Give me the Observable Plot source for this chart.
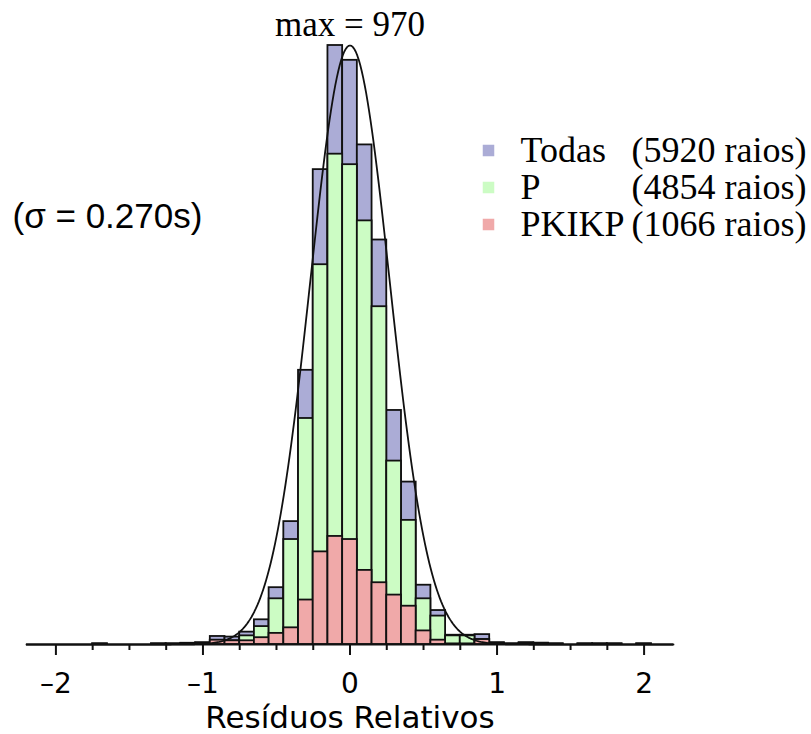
<!DOCTYPE html>
<html><head><meta charset="utf-8">
<script src="https://cdn.jsdelivr.net/npm/d3@7"></script>
<script src="https://cdn.jsdelivr.net/npm/@observablehq/plot@0.6"></script>
<style>body{margin:0;background:#fff}</style>
</head><body><div id="chart"></div>
<script>
// Bin centres (bin width 0.1)
const binCenters = [-2.0,-1.9,-1.8,-1.7,-1.6,-1.5,-1.4,-1.3,-1.2,-1.1,-1.0,-0.9,-0.8,-0.7,-0.6,-0.5,-0.4,-0.3,-0.2,-0.1,0.0,0.1,0.2,0.3,0.4,0.5,0.6,0.7,0.8,0.9,1.0,1.1,1.2,1.3,1.4,1.5,1.6,1.7,1.8,1.9,2.0];
const todas  = [0,0,0,1,0,0,0,1,1,2,3,13,12,20,40,92,199,444,769,970,946,809,655,379,263,96,55,15,15,16,3,1,3,2,1,0,1,1,1,0,1];
const pRays  = [0,0,0,1,0,0,0,1,1,1,2,6,6,14,29,74,170,366,615,794,777,686,547,297,201,74,46,14,14,8,2,1,2,2,1,0,1,1,1,0,1];
const pkikp  = [0,0,0,0,0,0,0,0,0,1,1,7,6,6,11,18,27,72,150,175,170,120,100,80,62,22,7,1,1,8,1,0,1,0,0,0,0,0,0,0,0];
const binWidth = 0.1;

const legendNames  = ["Todas", "P", "PKIKP"];
const legendCounts = ["(5920 raios)", "(4854 raios)", "(1066 raios)"];
const sigma = 0.270;   // from the annotation
const peakCount = 970; // "max = 970"
const majorTicks = [-2, -1, 0, 1, 2];
const minorTicks = [-1.75, -1.5, -1.25, -0.75, -0.5, -0.25, 0.25, 0.5, 0.75, 1.25, 1.5, 1.75];

const fills = ["#abacd6", "#ccfcc4", "#f0a9a9"];
const ink = "#111";

function rows(vals) {
  return binCenters
    .map((c, i) => ({x1: c - binWidth / 2, x2: c + binWidth / 2, y: vals[i]}))
    .filter(d => d.y > 0);
}
const curve = d3.range(-2.2, 2.2001, 0.01).map(x => ({x, y: peakCount * Math.exp(-x * x / (2 * sigma * sigma))}));

const fmt = d => d < 0 ? "\u2013" + Math.abs(d) : String(d);

const legendMarks = legendNames.flatMap((name, i) => [
  Plot.dot([name], {frameAnchor: "top-left", dx: 462, dy: 105 + 37 * i, symbol: "square", r: 6.5, fill: fills[i], stroke: null}),
  Plot.text([name], {frameAnchor: "top-left", dx: 494, dy: 105 + 37 * i, textAnchor: "start", lineAnchor: "middle", fontSize: 36, fontFamily: "Liberation Serif", fill: "#000"}),
  Plot.text([legendCounts[i]], {frameAnchor: "top-right", dx: 133, dy: 105 + 37 * i, textAnchor: "end", lineAnchor: "middle", fontSize: 36, fontFamily: "Liberation Serif", fill: "#000"})
]);

const chart = Plot.plot({
  width: 811,
  height: 734,
  marginLeft: 26,
  marginRight: 138,
  marginTop: 45,
  marginBottom: 90,
  x: {domain: [-2.2, 2.2]},
  y: {domain: [0, 970], axis: null},
  style: {fontFamily: "DejaVu Sans", background: "white", color: "#000"},
  marks: [
    Plot.rectY(rows(todas), {x1: "x1", x2: "x2", y: "y", fill: fills[0], stroke: ink, strokeWidth: 1.8}),
    Plot.rectY(rows(pRays), {x1: "x1", x2: "x2", y: "y", fill: fills[1], stroke: ink, strokeWidth: 1.8}),
    Plot.rectY(rows(pkikp), {x1: "x1", x2: "x2", y: "y", fill: fills[2], stroke: ink, strokeWidth: 1.8}),
    Plot.ruleY([0], {stroke: ink, strokeWidth: 2}),
    Plot.axisX({ticks: majorTicks, tickSize: 11, tickPadding: 18, fontSize: 28, tickFormat: fmt, strokeWidth: 2, stroke: ink, label: null}),
    Plot.axisX({ticks: minorTicks, tickSize: 6, tickFormat: () => "", strokeWidth: 2, stroke: ink, label: null}),
    Plot.line(curve, {x: "x", y: "y", stroke: ink, strokeWidth: 1.8}),
    Plot.text(["Resíduos Relativos"], {frameAnchor: "bottom", dy: 74, lineAnchor: "middle", fontSize: 31, fill: "#000"}),
    Plot.text(["max = 970"], {frameAnchor: "top", dy: -21, lineAnchor: "middle", fontSize: 35, fontFamily: "Liberation Serif", fill: "#000"}),
    Plot.text(["(σ = 0.270s)"], {frameAnchor: "top-left", dx: -14, dy: 171, textAnchor: "start", lineAnchor: "middle", fontSize: 35, fontFamily: "Liberation Sans", fill: "#000"}),
    ...legendMarks
  ]
});
document.getElementById("chart").appendChild(chart);
</script>
</body></html>
